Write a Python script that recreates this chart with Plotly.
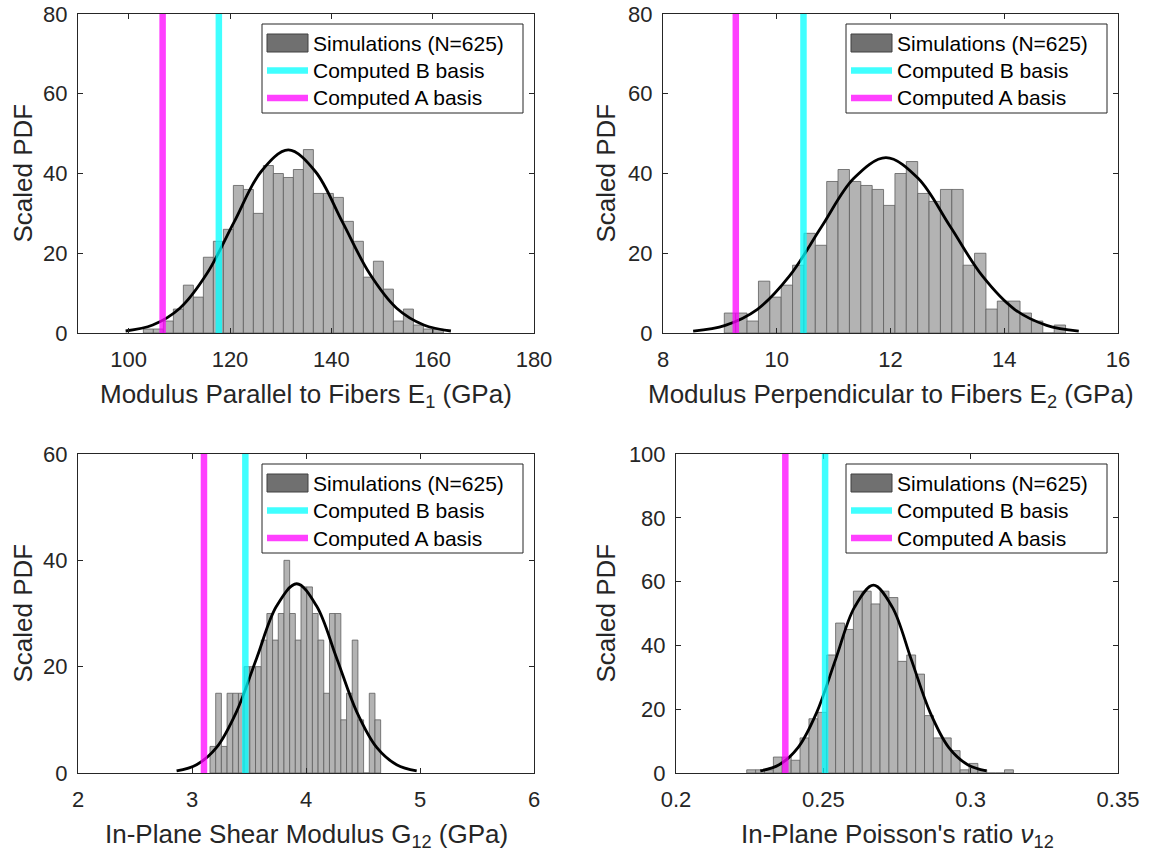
import plotly.graph_objects as go

W, H = 1158, 861
FONT = "Liberation Sans, Arial, Helvetica, sans-serif"

# ---------------- data ----------------
# Panel 1: Modulus parallel to fibers E1 (GPa)
e1_bin_start = 102.9
e1_bin_width = 1.974
e1_counts = [1, 1, 3, 6, 12, 9, 19, 23, 26, 37, 36, 30, 42, 40, 39, 41, 46, 35, 35, 34,
             28, 23, 14, 18, 11, 3, 6, 2, 1, 1]
e1_fit_x = [99.4, 104.75, 110.1, 115.45, 120.8, 126.15, 131.5, 136.85, 142.2, 147.55, 152.9, 158.25, 163.6]
e1_fit_y = [0.5, 2.0, 6.2, 14.9, 27.8, 40.5, 45.9, 40.5, 27.8, 14.9, 6.2, 2.0, 0.5]
e1_a_basis = 106.7
e1_b_basis = 117.8
e1_xticks = [100, 120, 140, 160, 180]
e1_yticks = [0, 20, 40, 60, 80]

# Panel 2: Modulus perpendicular to fibers E2 (GPa)
e2_bin_start = 9.078
e2_bin_width = 0.2
e2_counts = [5, 5, 3, 13, 9, 12, 17, 25, 22, 38, 41, 38, 37, 36, 32, 40, 43, 35, 33, 36,
             36, 17, 20, 6, 8, 8, 5, 3, 0, 2]
e2_fit_x = [8.53, 9.095, 9.66, 10.225, 10.79, 11.355, 11.92, 12.485, 13.05, 13.615, 14.18, 14.745, 15.31]
e2_fit_y = [0.49, 1.93, 5.95, 14.3, 26.7, 38.8, 44.0, 38.8, 26.7, 14.3, 5.95, 1.93, 0.49]
e2_a_basis = 9.28
e2_b_basis = 10.47
e2_xticks = [8, 10, 12, 14, 16]
e2_yticks = [0, 20, 40, 60, 80]

# Panel 3: In-plane shear modulus G12 (GPa)
g12_bin_start = 3.158
g12_bin_width = 0.0499
g12_counts = [5, 15, 5, 15, 15, 15, 20, 20, 20, 25, 30, 25, 30, 40, 30, 25, 35, 35, 30, 25,
              15, 30, 30, 10, 15, 25, 10, 0, 15, 10]
g12_fit_x = [2.865, 3.04, 3.216, 3.391, 3.567, 3.742, 3.918, 4.093, 4.269, 4.444, 4.62, 4.795, 4.971]
g12_fit_y = [0.40, 1.56, 4.82, 11.56, 21.6, 31.4, 35.6, 31.4, 21.6, 11.56, 4.82, 1.56, 0.40]
g12_a_basis = 3.105
g12_b_basis = 3.468
g12_xticks = [2, 3, 4, 5, 6]
g12_yticks = [0, 20, 40, 60]

# Panel 4: In-plane Poisson's ratio nu12
nu_bin_start = 0.2240
nu_bin_width = 0.003017
nu_counts = [1, 1, 1, 5, 5, 4, 11, 17, 19, 37, 47, 45, 57, 57, 53, 57, 55, 35, 37, 31,
             18, 11, 11, 7, 1, 3, 1, 0, 0, 1]
nu_fit_x = [0.2286, 0.235, 0.2414, 0.2478, 0.2542, 0.2606, 0.267, 0.2734, 0.2798, 0.2862, 0.2926, 0.299, 0.3054]
nu_fit_y = [0.65, 2.59, 7.97, 19.1, 35.7, 52.0, 58.9, 52.0, 35.7, 19.1, 7.97, 2.59, 0.65]
nu_a_basis = 0.2371
nu_b_basis = 0.2506
nu_xticks = [0.2, 0.25, 0.3, 0.35]
nu_xticklabels = ["0.2", "0.25", "0.3", "0.35"]
nu_yticks = [0, 20, 40, 60, 80, 100]

legend_labels = ["Simulations (N=625)", "Computed B basis", "Computed A basis"]
y_title = "Scaled PDF"

panels = [
    dict(start=e1_bin_start, width=e1_bin_width, counts=e1_counts, fx=e1_fit_x, fy=e1_fit_y,
         a=e1_a_basis, b=e1_b_basis, xr=[90, 180], xt=e1_xticks, xtt=[str(v) for v in e1_xticks],
         yr=[0, 80], yt=e1_yticks,
         xtitle="Modulus Parallel to Fibers E<sub>1</sub> (GPa)", box=(78, 14, 534, 333), ytx=22),
    dict(start=e2_bin_start, width=e2_bin_width, counts=e2_counts, fx=e2_fit_x, fy=e2_fit_y,
         a=e2_a_basis, b=e2_b_basis, xr=[8, 16], xt=e2_xticks, xtt=[str(v) for v in e2_xticks],
         yr=[0, 80], yt=e2_yticks,
         xtitle="Modulus Perpendicular to Fibers E<sub>2</sub> (GPa)", box=(663, 14, 1118, 333), ytx=605),
    dict(start=g12_bin_start, width=g12_bin_width, counts=g12_counts, fx=g12_fit_x, fy=g12_fit_y,
         a=g12_a_basis, b=g12_b_basis, xr=[2, 6], xt=g12_xticks, xtt=[str(v) for v in g12_xticks],
         yr=[0, 60], yt=g12_yticks,
         xtitle="In-Plane Shear Modulus G<sub>12</sub> (GPa)", box=(78, 454, 534, 773), ytx=22),
    dict(start=nu_bin_start, width=nu_bin_width, counts=nu_counts, fx=nu_fit_x, fy=nu_fit_y,
         a=nu_a_basis, b=nu_b_basis, xr=[0.2, 0.35], xt=nu_xticks, xtt=nu_xticklabels,
         yr=[0, 100], yt=nu_yticks,
         xtitle="In-Plane Poisson's ratio <i>ν</i><sub>12</sub>", box=(676, 454, 1118, 773), ytx=605),
]

AXCOL = "#262626"
BAR_FILL = "#b3b3b3"
BAR_EDGE = "#5e5e5e"
CYAN = "rgba(0,255,255,0.75)"
MAGENTA = "rgba(255,0,255,0.75)"
TICK_SIZE = 22
TITLE_SIZE = 26
LEGEND_SIZE = 21


def px(x):
    return x / W


def py(y):
    return 1 - y / H


fig = go.Figure()
layout = dict(width=W, height=H, margin=dict(l=0, r=0, t=0, b=0, pad=0, autoexpand=False),
              paper_bgcolor="white", plot_bgcolor="white", showlegend=False,
              font=dict(family=FONT, color=AXCOL))
shapes = []
annotations = []

for i, p in enumerate(panels, start=1):
    sfx = "" if i == 1 else str(i)
    xa, ya = "x" + sfx, "y" + sfx
    x0, y0, x1, y1 = p["box"]
    centers = [p["start"] + (k + 0.5) * p["width"] for k in range(len(p["counts"]))]
    fig.add_trace(go.Bar(x=centers, y=p["counts"], width=p["width"], xaxis=xa, yaxis=ya,
                         marker=dict(color=BAR_FILL, line=dict(color=BAR_EDGE, width=0.8)),
                         hoverinfo="skip"))
    fig.add_trace(go.Scatter(x=p["fx"], y=p["fy"], mode="lines", xaxis=xa, yaxis=ya,
                             line=dict(color="black", width=2.8, shape="spline"), hoverinfo="skip"))
    for val, col in ((p["b"], CYAN), (p["a"], MAGENTA)):
        shapes.append(dict(type="line", xref=xa, yref=ya + " domain", x0=val, x1=val, y0=0, y1=1,
                           line=dict(color=col, width=6.5), layer="above"))
    axcommon = dict(showline=True, linecolor=AXCOL, linewidth=1, mirror="ticks", ticks="inside",
                    ticklen=5, tickwidth=1, tickcolor=AXCOL, showgrid=False, zeroline=False,
                    automargin=False, ticklabeloverflow="allow",
                    tickfont=dict(family=FONT, size=TICK_SIZE, color=AXCOL))
    layout["xaxis" + sfx] = dict(domain=[px(x0), px(x1)], range=p["xr"], tickvals=p["xt"],
                                 ticktext=p["xtt"], anchor=ya, ticklabelstandoff=7, **axcommon)
    layout["yaxis" + sfx] = dict(domain=[py(y1), py(y0)], range=p["yr"], tickvals=p["yt"],
                                 anchor=xa, ticklabelstandoff=5, **axcommon)
    # axis titles
    annotations.append(dict(text=p["xtitle"], xref="paper", yref="paper", x=px((x0 + x1) / 2),
                            y=py(y1 + 62), xanchor="center", yanchor="middle", showarrow=False,
                            font=dict(family=FONT, size=TITLE_SIZE, color=AXCOL)))
    annotations.append(dict(text=y_title, xref="paper", yref="paper", x=px(p["ytx"]),
                            y=py((y0 + y1) / 2), xanchor="center", yanchor="middle", textangle=-90,
                            showarrow=False, font=dict(family=FONT, size=TITLE_SIZE, color=AXCOL)))
    # legend box (drawn by hand, MATLAB style)
    lr = x1 - 11
    lt = y0 + 10
    ll = lr - 261
    lb = lt + 89
    shapes.append(dict(type="rect", xref="paper", yref="paper", x0=px(ll), x1=px(lr), y0=py(lb),
                       y1=py(lt), line=dict(color=AXCOL, width=1), fillcolor="white", layer="above"))
    rows = [lt + 19, lt + 46.5, lt + 74]
    shapes.append(dict(type="rect", xref="paper", yref="paper", x0=px(ll + 5), x1=px(ll + 46),
                       y0=py(rows[0] + 9), y1=py(rows[0] - 9), line=dict(color="#404040", width=1),
                       fillcolor="#707070", layer="above"))
    shapes.append(dict(type="line", xref="paper", yref="paper", x0=px(ll + 5), x1=px(ll + 46),
                       y0=py(rows[1]), y1=py(rows[1]), line=dict(color=CYAN, width=6.5), layer="above"))
    shapes.append(dict(type="line", xref="paper", yref="paper", x0=px(ll + 5), x1=px(ll + 46),
                       y0=py(rows[2]), y1=py(rows[2]), line=dict(color=MAGENTA, width=6.5), layer="above"))
    for lab, ry in zip(legend_labels, rows):
        annotations.append(dict(text=lab, xref="paper", yref="paper", x=px(ll + 49), y=py(ry),
                                xanchor="left", yanchor="middle", showarrow=False,
                                font=dict(family=FONT, size=LEGEND_SIZE, color="black")))

layout["shapes"] = shapes
layout["annotations"] = annotations
fig.update_layout(**layout)

# remove the browser's default 8 px page margin so the figure fills the window exactly
page_fix = ("document.body.style.margin='0';document.body.style.padding='0';"
            "document.documentElement.style.overflow='hidden';")
fig.write_html("out.html", post_script=page_fix, config={"displayModeBar": False})
